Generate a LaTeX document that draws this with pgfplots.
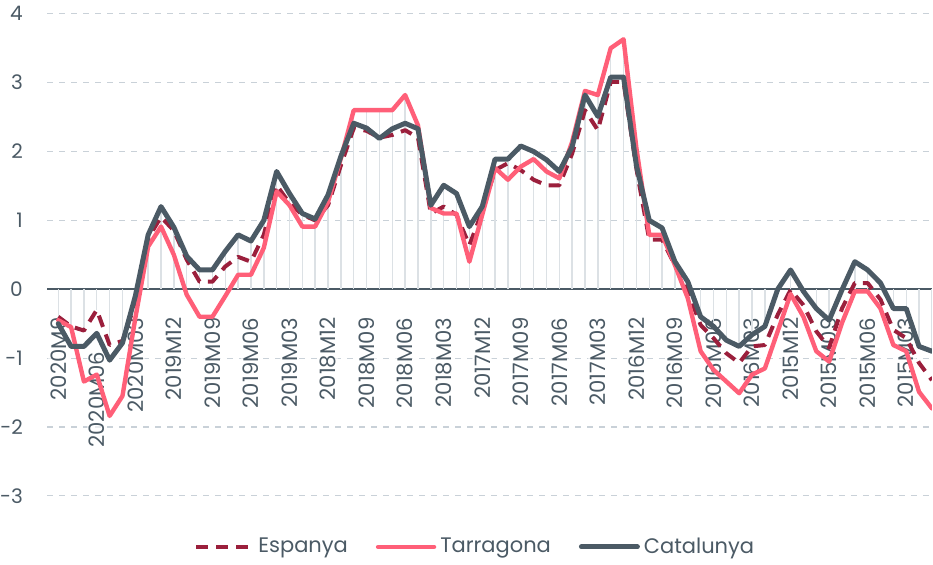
\documentclass[border=0pt]{standalone}
\usepackage{pgfplots}
\pgfplotsset{compat=1.18}
\usepackage{pgfplotstable}
\usepackage{fontspec}
\setmainfont{Poppins}
\definecolor{esp}{HTML}{9B1F3C}
\definecolor{tar}{HTML}{FF5F78}
\definecolor{cat}{HTML}{4B5A65}
\definecolor{txt}{HTML}{4B5A65}
\definecolor{grd}{HTML}{C9D1D8}
\definecolor{drp}{HTML}{DCE1E5}
\pgfplotsset{layers/mylayers/.define layer set={axis background,axis grid,axis ticks,axis lines,main,axis tick labels,axis descriptions,axis foreground}{}}
\pgfplotstableread{
i E T C M
0 -0.40 -0.45 -0.50 -0.40
1 -0.54 -0.55 -0.83 -0.54
2 -0.60 -1.34 -0.83 -0.60
3 -0.30 -1.24 -0.64 -0.30
4 -0.81 -1.84 -1.03 -0.81
5 -0.75 -1.55 -0.78 -0.75
6 -0.20 -0.42 -0.10 -0.10
7 0.74 0.62 0.79 0.79
8 1.05 0.91 1.20 1.20
9 0.85 0.50 0.90 0.90
10 0.43 -0.08 0.48 0.48
11 0.11 -0.40 0.28 0.28
12 0.11 -0.40 0.28 0.28
13 0.33 -0.10 0.55 0.55
14 0.47 0.21 0.79 0.79
15 0.40 0.21 0.70 0.70
16 0.79 0.60 1.00 1.00
17 1.51 1.42 1.71 1.71
18 1.25 1.22 1.39 1.39
19 1.08 0.91 1.10 1.10
20 1.00 0.91 1.02 1.02
21 1.22 1.27 1.37 1.37
22 1.80 1.90 1.93 1.93
23 2.34 2.60 2.41 2.60
24 2.30 2.60 2.34 2.60
25 2.20 2.60 2.19 2.60
26 2.24 2.60 2.33 2.60
27 2.31 2.82 2.41 2.82
28 2.20 2.38 2.33 2.38
29 1.10 1.18 1.22 1.22
30 1.20 1.10 1.51 1.51
31 1.08 1.10 1.39 1.39
32 0.64 0.40 0.91 0.91
33 1.13 1.08 1.20 1.20
34 1.73 1.76 1.89 1.89
35 1.83 1.59 1.89 1.89
36 1.73 1.78 2.08 2.08
37 1.59 1.89 2.00 2.00
38 1.51 1.71 1.88 1.88
39 1.51 1.61 1.71 1.71
40 1.97 2.14 2.07 2.14
41 2.60 2.88 2.82 2.88
42 2.31 2.82 2.51 2.82
43 3.01 3.50 3.08 3.50
44 3.01 3.63 3.08 3.63
45 1.75 2.05 1.80 2.05
46 0.72 0.79 1.00 1.00
47 0.72 0.79 0.89 0.89
48 0.35 0.35 0.40 0.40
49 -0.03 -0.13 0.11 0.11
50 -0.52 -0.90 -0.40 -0.40
51 -0.71 -1.17 -0.54 -0.54
52 -0.93 -1.34 -0.74 -0.74
53 -1.07 -1.51 -0.83 -0.83
54 -0.83 -1.24 -0.66 -0.66
55 -0.81 -1.15 -0.54 -0.54
56 -0.37 -0.61 0.00 0.00
57 -0.01 -0.07 0.28 0.28
58 -0.23 -0.40 -0.03 -0.03
59 -0.61 -0.90 -0.28 -0.28
60 -0.85 -1.05 -0.45 -0.45
61 -0.28 -0.49 -0.01 -0.01
62 0.09 -0.03 0.40 0.40
63 0.09 -0.03 0.28 0.28
64 -0.15 -0.28 0.09 0.09
65 -0.59 -0.81 -0.28 -0.28
66 -0.71 -0.90 -0.28 -0.28
67 -1.07 -1.49 -0.83 -0.83
68 -1.32 -1.73 -0.90 -0.90
}\data
\begin{document}
\begin{tikzpicture}
\begin{axis}[
  set layers=mylayers,
  scale only axis, width=442.5pt, height=248pt,
  xmin=-0.86, xmax=68, ymin=-3, ymax=4.2,
  axis x line=middle, axis y line=left,
  axis line style={-},
  x axis line style={draw=cat, line width=1.1pt},
  y axis line style={draw=none},
  xtick={0,3,...,66},
  xticklabels={{2020M9},{2020M06\hspace*{17pt}},{2020M03},{2019M12},{2019M09},{2019M06},{2019M03},{2018M12},{2018M09},{2018M06},{2018M03},{2017M12},{2017M09},{2017M06},{2017M03},{2016M12},{2016M09},{2016M06},{2016M03},{2015M12},{2015M09},{2015M06},{2015M03}},
  ytick={-3,-2,-1,0,1,2,3,4},
  yticklabels={-3,-2,-1,0,1,2,3,4},
  ymajorgrids,
  grid style={grd, line width=0.6pt, dash pattern=on 3pt off 3pt},
  major tick length=0pt,
  tick label style={font=\fontsize{10}{12}\selectfont, text=txt},
  xticklabel style={font=\fontsize{10.6}{12}\selectfont, yshift=-13pt, rotate=90, anchor=east, fill=white, fill opacity=0.6, text opacity=1, inner sep=1pt},
  yticklabel style={anchor=east, inner sep=0pt, xshift=-12pt},
  legend style={at={(0.485,0)}, anchor=center, yshift=-25.5pt, legend columns=3, draw=none, fill=none,
    font=\fontsize{10.5}{12}\selectfont, text=txt,
    /tikz/every even column/.append style={column sep=2pt},
    /tikz/every odd column/.append style={column sep=0pt}},
  legend cell align=left,
  legend image code/.code={\draw[#1] (0pt,0pt) -- (28pt,0pt);},
]
\addplot[ycomb, draw=drp, line width=0.7pt, forget plot] table[x=i,y=M]{\data};
\addplot[esp, line width=2pt, dash pattern=on 6pt off 4pt, line join=round] table[x=i,y=E]{\data};
\addlegendentry{Espanya\hspace*{10pt}}
\addplot[tar, line width=2.2pt, line join=round, line cap=round] table[x=i,y=T]{\data};
\addlegendentry{Tarragona\hspace*{10pt}}
\addplot[cat, line width=2.5pt, line join=round, line cap=round] table[x=i,y=C]{\data};
\addlegendentry{Catalunya}
\end{axis}
\end{tikzpicture}
\end{document}
